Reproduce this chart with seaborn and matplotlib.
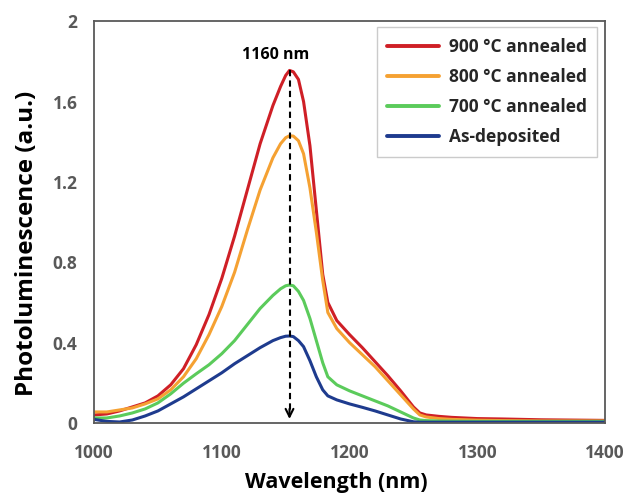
import numpy as np
import pandas as pd
import matplotlib
matplotlib.use("Agg")
import matplotlib.pyplot as plt
import seaborn as sns

wavelength = [1000, 1010, 1020, 1030, 1040, 1050, 1060, 1070, 1080, 1090, 1100,
              1110, 1120, 1130, 1140, 1146, 1150, 1153, 1156, 1160, 1164, 1169,
              1174, 1179, 1183, 1190, 1200, 1210, 1220, 1230, 1240, 1250, 1255,
              1260, 1270, 1280, 1300, 1320, 1350, 1400]

pl_900 = [0.040, 0.045, 0.060, 0.080, 0.100, 0.135, 0.190, 0.270, 0.390, 0.540, 0.720,
          0.930, 1.160, 1.390, 1.580, 1.675, 1.730, 1.755, 1.748, 1.710, 1.600, 1.380,
          1.060, 0.740, 0.600, 0.510, 0.440, 0.375, 0.305, 0.235, 0.160, 0.080, 0.050,
          0.040, 0.033, 0.028, 0.022, 0.020, 0.016, 0.013]

pl_800 = [0.055, 0.055, 0.065, 0.075, 0.095, 0.120, 0.165, 0.230, 0.320, 0.440, 0.580,
          0.750, 0.960, 1.160, 1.320, 1.390, 1.420, 1.430, 1.428, 1.405, 1.340, 1.170,
          0.950, 0.710, 0.550, 0.470, 0.400, 0.340, 0.280, 0.210, 0.140, 0.070, 0.040,
          0.030, 0.022, 0.018, 0.014, 0.012, 0.010, 0.010]

pl_700 = [0.025, 0.025, 0.035, 0.050, 0.070, 0.100, 0.145, 0.198, 0.245, 0.290, 0.345,
          0.410, 0.490, 0.570, 0.635, 0.668, 0.683, 0.687, 0.683, 0.655, 0.610, 0.520,
          0.410, 0.300, 0.230, 0.190, 0.160, 0.135, 0.110, 0.085, 0.055, 0.025, 0.015,
          0.012, 0.010, 0.009, 0.008, 0.008, 0.008, 0.008]

pl_asdep = [0.018, 0.008, 0.005, 0.015, 0.035, 0.060, 0.095, 0.130, 0.170, 0.210, 0.250,
            0.295, 0.335, 0.375, 0.410, 0.425, 0.432, 0.433, 0.430, 0.410, 0.380, 0.310,
            0.230, 0.165, 0.135, 0.115, 0.095, 0.078, 0.060, 0.040, 0.020, 0.006, 0.004,
            0.004, 0.004, 0.004, 0.004, 0.004, 0.004, 0.004]

series_names = ["900 °C annealed", "800 °C annealed", "700 °C annealed", "As-deposited"]
series_values = [pl_900, pl_800, pl_700, pl_asdep]
colors = ["#CF1F26", "#F5A132", "#5BCB5B", "#1E3B8E"]

peak_nm = 1153
peak_val = 1.755
peak_label = "1160 nm"

x_ticks = [1000, 1100, 1200, 1300, 1400]
y_ticks = [0, 0.4, 0.8, 1.2, 1.6, 2]
y_tick_labels = ["0", "0.4", "0.8", "1.2", "1.6", "2"]

df = pd.concat([
    pd.DataFrame({"Wavelength": wavelength, "PL": vals, "Sample": name})
    for name, vals in zip(series_names, series_values)
], ignore_index=True)

sns.set_style("white")
plt.rcParams["font.family"] = ["Open Sans", "DejaVu Sans"]

fig = plt.figure(figsize=(6.27, 4.93), dpi=100)
ax = fig.add_axes([0.150, 0.142, 0.815, 0.815])

sns.lineplot(data=df, x="Wavelength", y="PL", hue="Sample", hue_order=series_names,
             palette=colors, linewidth=2.2, ax=ax, legend=True)

# dashed marker line with arrow
ax.plot([peak_nm, peak_nm], [peak_val, 0.06], color="black", linestyle=(0, (3, 2)), lw=1.5)
ax.annotate("", xy=(peak_nm, 0.02), xytext=(peak_nm, 0.07),
            arrowprops=dict(arrowstyle="->", color="black", lw=1.5,
                            mutation_scale=14, shrinkA=0, shrinkB=0))
ax.text(1142, 1.83, peak_label, ha="center", va="center", fontsize=11.5,
        fontweight="bold", color="black")

ax.set_xlim(1000, 1400)
ax.set_ylim(0, 2)
ax.set_xticks(x_ticks)
ax.set_yticks(y_ticks)
ax.set_yticklabels(y_tick_labels)
ax.tick_params(axis="both", direction="in", length=5, width=1.2, color="#595959",
               labelsize=12.5, labelcolor="#595959")
ax.tick_params(axis="x", pad=15)
ax.tick_params(axis="y", pad=12)
for lab in ax.get_xticklabels() + ax.get_yticklabels():
    lab.set_fontweight("bold")

for sp in ax.spines.values():
    sp.set_visible(True)
    sp.set_color("#595959")
    sp.set_linewidth(1.3)

ax.set_xlabel("Wavelength (nm)", fontsize=15.5, fontweight="bold", color="black")
ax.set_ylabel("Photoluminescence (a.u.)", fontsize=17.5, fontweight="bold", color="black")
ax.xaxis.set_label_coords(0.475, -0.121)
ax.yaxis.set_label_coords(-0.108, 0.448)

leg = ax.legend(loc="upper right", bbox_to_anchor=(0.985, 0.985), borderaxespad=0,
                frameon=True, fancybox=False, edgecolor="#BFBFBF", fontsize=12.5,
                handlelength=3.0, handletextpad=0.55, labelspacing=0.7, borderpad=0.6)
leg.get_frame().set_linewidth(1.0)
for t in leg.get_texts():
    t.set_fontweight("bold")
for l in leg.get_lines():
    l.set_linewidth(2.8)

fig.savefig("out.png", dpi=100, facecolor="white")
